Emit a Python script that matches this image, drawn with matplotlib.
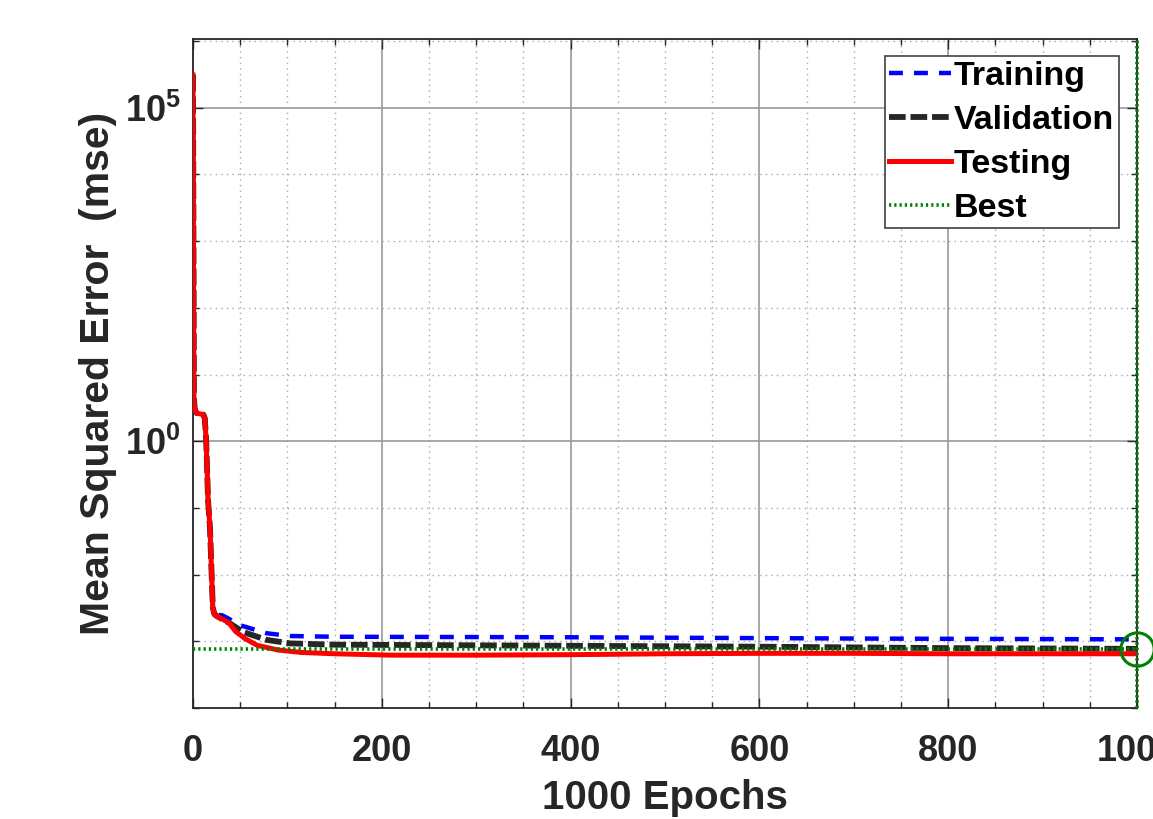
import matplotlib
matplotlib.use("Agg")
import matplotlib.pyplot as plt
from matplotlib.ticker import FixedLocator, MultipleLocator, FixedFormatter

# ---------------- data ----------------
train_epochs = [0, 1, 2, 4, 11, 12.5, 14, 16, 18, 20, 21, 22.5, 25, 31, 40, 50, 78, 103, 150, 400, 700, 1000]
train_mse = [3.1e5, 4.2, 2.95, 2.63, 2.5, 2.2, 1.0, 0.126, 0.05, 0.0079, 0.0032, 0.0026,
             0.0025, 0.00245, 0.0021, 0.00174, 0.00132, 0.0012, 0.00117, 0.00115, 0.0011, 0.00107]

val_epochs = [0, 1, 2, 4, 11, 12.5, 14, 16, 18, 20, 21, 22.5, 25, 30, 38, 53, 78, 103, 150, 300, 600, 800, 1000]
val_mse = [3.1e5, 4.2, 2.95, 2.63, 2.5, 2.2, 1.0, 0.126, 0.05, 0.0079, 0.0032, 0.0026,
           0.0024, 0.00219, 0.0019, 0.00138, 0.00105, 0.00093, 0.00089, 0.00087, 0.00083, 0.00079, 0.00077]

test_epochs = [0, 1, 2, 4, 11, 12.5, 14, 16, 18, 20, 21, 22.5, 30, 38, 45, 55, 68, 90, 115, 150, 210,
               300, 400, 500, 600, 700, 800, 900, 1000]
test_mse = [3.1e5, 4.2, 2.95, 2.63, 2.5, 2.2, 1.0, 0.126, 0.05, 0.0079, 0.0032, 0.0025,
            0.00219, 0.0019, 0.00141, 0.0011, 0.00087, 0.00074, 0.00068, 0.00065, 0.00062,
            0.00062, 0.00063, 0.00065, 0.00066, 0.00066, 0.00065, 0.00065, 0.00065]

best_epoch = 1000
best_mse = 0.00077

x_ticks = [0, 200, 400, 600, 800, 1000]
y_ticks = [1e0, 1e5]
y_ticklabels = [r"$10^{0}$", r"$10^{5}$"]
legend_labels = ["Training", "Validation", "Testing", "Best"]
x_label = "1000 Epochs"
y_label = "Mean Squared Error  (mse)"

# ---------------- style ----------------
plt.rcParams["font.family"] = ["Liberation Sans", "DejaVu Sans"]
plt.rcParams["font.weight"] = "bold"
plt.rcParams["mathtext.default"] = "regular"
plt.rcParams["lines.scale_dashes"] = False
txt = "#262626"

fig = plt.figure(figsize=(11.53, 8.19), dpi=100)
W, H = 1153, 819
ax = fig.add_axes([193 / W, 1 - 708 / H, (1137 - 193) / W, (708 - 39) / H])
ax.set_yscale("log")

l_tr, = ax.plot(train_epochs, train_mse, color="#0000ff", lw=3.2, dashes=(10, 8), zorder=3)
l_va, = ax.plot(val_epochs, val_mse, color="#262626", lw=4.2, dashes=(12, 3.5), zorder=3)
l_te, = ax.plot(test_epochs, test_mse, color="#ff0000", lw=3.6, zorder=4)
l_be = ax.axhline(best_mse, color="#008000", lw=2.6, dashes=(1.6, 2.2), zorder=5)
ax.axvline(best_epoch, color="#008000", lw=2.6, dashes=(1.6, 2.2), zorder=5, clip_on=False)
ax.plot([best_epoch], [best_mse], marker="o", ms=24, mfc="none", mec="#008000", mew=2.2,
        clip_on=False, zorder=6)

ax.set_xlim(0, 1000)
ax.set_ylim(1e-4, 10 ** 6.03)

ax.xaxis.set_major_locator(FixedLocator(x_ticks))
ax.xaxis.set_minor_locator(MultipleLocator(50))
ax.yaxis.set_major_locator(FixedLocator(y_ticks))
ax.yaxis.set_major_formatter(FixedFormatter(y_ticklabels))
ax.yaxis.set_minor_locator(FixedLocator([10.0 ** k for k in range(-4, 7)]))
ax.yaxis.set_minor_formatter(FixedFormatter([""] * 11))

ax.grid(True, which="major", color="#9a9a9a", lw=1.2, ls="-")
ax.grid(True, which="minor", color="#a8a8a8", lw=1.0, ls=(0, (1, 3)))
ax.set_axisbelow(True)

ax.tick_params(which="both", direction="in", top=True, right=True, colors=txt, width=1.0)
ax.tick_params(which="major", length=7, labelsize=26, pad=19)
ax.tick_params(which="minor", length=4)
ax.tick_params(axis="y", which="major", pad=9)
for lab in ax.get_xticklabels() + ax.get_yticklabels():
    lab.set_fontweight("bold")
for s in ax.spines.values():
    s.set_color(txt)
    s.set_linewidth(1.3)

ax.set_xlabel(x_label, fontsize=29, fontweight="bold", color=txt)
ax.set_ylabel(y_label, fontsize=29.5, fontweight="bold", color=txt)
ax.xaxis.set_label_coords(0.5, -(779 - 708) / (708 - 39))
ax.yaxis.set_label_coords(-(193 - 117) / (1137 - 193), 0.5)

leg = ax.legend([l_tr, l_va, l_te, l_be], legend_labels, loc="upper right",
                bbox_to_anchor=(1119 / W, 1 - 56 / H), bbox_transform=fig.transFigure,
                prop={"weight": "bold", "size": 24.5},
                handlelength=1.8, handletextpad=0.1, labelspacing=0.38,
                borderpad=0.14, borderaxespad=0, fancybox=False, framealpha=1,
                edgecolor="#404040")
leg.get_frame().set_linewidth(1.2)
for t in leg.get_texts():
    t.set_color("black")

fig.savefig("out.png", dpi=100)
